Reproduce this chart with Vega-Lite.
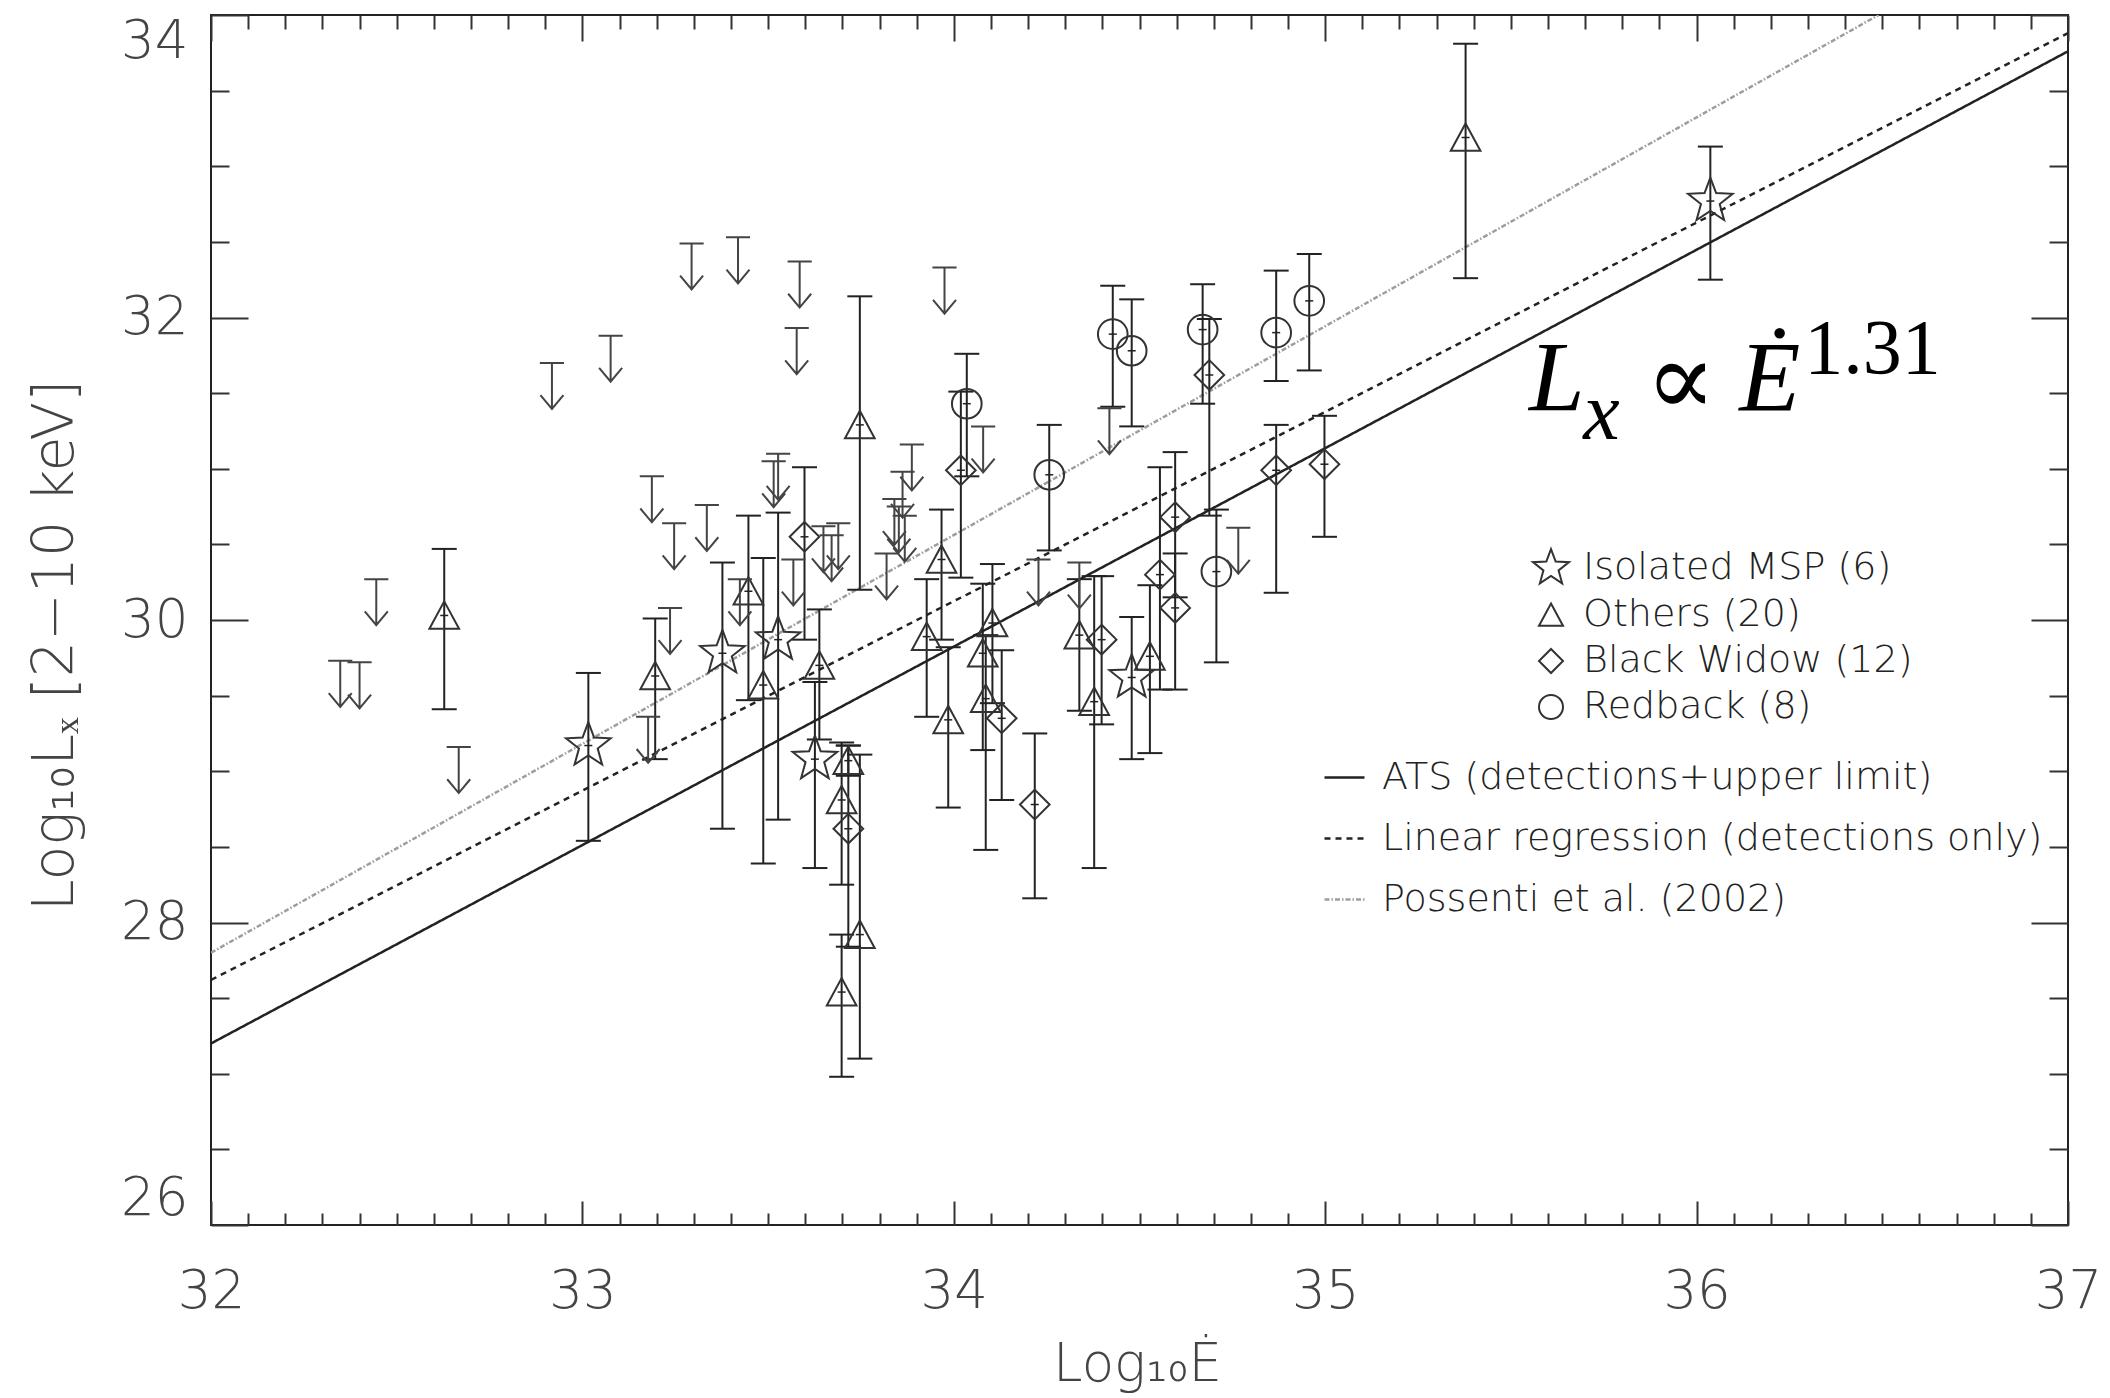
{
  "$schema": "https://vega.github.io/schema/vega-lite/v6.json",
  "width": 1857,
  "height": 1210,
  "autosize": {"type": "none"},
  "padding": {"left": 211, "top": 15, "right": 42, "bottom": 173},
  "background": "white",
  "config": {"view": {"stroke": "#222222", "strokeWidth": 2}, "axis": {"grid": false, "domain": false}},
  "datasets": {
    "fits": [
      {"fit": "ATS (detections+upper limit)", "E": 32, "L": 27.2},
      {"fit": "ATS (detections+upper limit)", "E": 37, "L": 33.76},
      {"fit": "Linear regression (detections only)", "E": 32, "L": 27.62},
      {"fit": "Linear regression (detections only)", "E": 37, "L": 33.88},
      {"fit": "Possenti et al. (2002)", "E": 32, "L": 27.8},
      {"fit": "Possenti et al. (2002)", "E": 36.49, "L": 34.0}
    ],
    "msp": [
      {"type": "Isolated MSP (6)", "E": 33.016, "L": 29.17, "lo": 28.54, "hi": 29.65},
      {"type": "Isolated MSP (6)", "E": 33.377, "L": 29.78, "lo": 28.62, "hi": 30.38},
      {"type": "Isolated MSP (6)", "E": 33.527, "L": 29.87, "lo": 28.68, "hi": 30.71},
      {"type": "Isolated MSP (6)", "E": 33.626, "L": 29.08, "lo": 28.36, "hi": 29.59},
      {"type": "Isolated MSP (6)", "E": 34.479, "L": 29.62, "lo": 29.08, "hi": 30.02},
      {"type": "Isolated MSP (6)", "E": 36.037, "L": 32.77, "lo": 32.25, "hi": 33.13},
      {"type": "Others (20)", "E": 32.628, "L": 30.03, "lo": 29.41, "hi": 30.47},
      {"type": "Others (20)", "E": 33.196, "L": 29.63, "lo": 29.08, "hi": 30.01},
      {"type": "Others (20)", "E": 33.447, "L": 30.19, "lo": 29.47, "hi": 30.69},
      {"type": "Others (20)", "E": 33.487, "L": 29.57, "lo": 28.39, "hi": 30.41},
      {"type": "Others (20)", "E": 33.638, "L": 29.7, "lo": 29.21, "hi": 30.07},
      {"type": "Others (20)", "E": 33.716, "L": 29.07, "lo": 28.97, "hi": 29.17},
      {"type": "Others (20)", "E": 33.698, "L": 28.81, "lo": 28.25, "hi": 29.19},
      {"type": "Others (20)", "E": 33.747, "L": 27.92, "lo": 27.1, "hi": 29.11},
      {"type": "Others (20)", "E": 33.698, "L": 27.54, "lo": 26.98, "hi": 27.92},
      {"type": "Others (20)", "E": 33.747, "L": 31.29, "lo": 30.2, "hi": 32.14},
      {"type": "Others (20)", "E": 33.927, "L": 29.89, "lo": 29.36, "hi": 30.27},
      {"type": "Others (20)", "E": 33.967, "L": 30.4, "lo": 29.87, "hi": 30.73},
      {"type": "Others (20)", "E": 33.985, "L": 29.34, "lo": 28.76, "hi": 29.82},
      {"type": "Others (20)", "E": 34.104, "L": 29.98, "lo": 29.45, "hi": 30.37},
      {"type": "Others (20)", "E": 34.078, "L": 29.78, "lo": 29.14, "hi": 30.24},
      {"type": "Others (20)", "E": 34.086, "L": 29.48, "lo": 28.48, "hi": 29.9},
      {"type": "Others (20)", "E": 34.338, "L": 29.9, "lo": 29.4, "hi": 30.27},
      {"type": "Others (20)", "E": 34.378, "L": 29.46, "lo": 28.36, "hi": 30.29},
      {"type": "Others (20)", "E": 34.528, "L": 29.76, "lo": 29.12, "hi": 30.23},
      {"type": "Others (20)", "E": 35.378, "L": 33.19, "lo": 32.26, "hi": 33.81},
      {"type": "Black Widow (12)", "E": 33.598, "L": 30.55, "lo": 29.87, "hi": 31.01},
      {"type": "Black Widow (12)", "E": 33.716, "L": 28.62, "lo": 27.84, "hi": 29.17},
      {"type": "Black Widow (12)", "E": 34.019, "L": 30.99, "lo": 30.28, "hi": 31.51},
      {"type": "Black Widow (12)", "E": 34.129, "L": 29.35, "lo": 28.81, "hi": 29.8},
      {"type": "Black Widow (12)", "E": 34.218, "L": 28.78, "lo": 28.16, "hi": 29.25},
      {"type": "Black Widow (12)", "E": 34.398, "L": 29.87, "lo": 29.31, "hi": 30.29},
      {"type": "Black Widow (12)", "E": 34.555, "L": 30.3, "lo": 29.54, "hi": 31.01},
      {"type": "Black Widow (12)", "E": 34.596, "L": 30.68, "lo": 30.15, "hi": 31.11},
      {"type": "Black Widow (12)", "E": 34.596, "L": 30.08, "lo": 29.54, "hi": 30.44},
      {"type": "Black Widow (12)", "E": 34.688, "L": 31.62, "lo": 30.69, "hi": 31.99},
      {"type": "Black Widow (12)", "E": 34.868, "L": 30.99, "lo": 30.18, "hi": 31.29},
      {"type": "Black Widow (12)", "E": 34.998, "L": 31.03, "lo": 30.55, "hi": 31.35},
      {"type": "Redback (8)", "E": 34.035, "L": 31.43, "lo": 30.95, "hi": 31.76},
      {"type": "Redback (8)", "E": 34.257, "L": 30.96, "lo": 30.46, "hi": 31.29},
      {"type": "Redback (8)", "E": 34.428, "L": 31.89, "lo": 31.41, "hi": 32.21},
      {"type": "Redback (8)", "E": 34.479, "L": 31.78, "lo": 31.28, "hi": 32.12},
      {"type": "Redback (8)", "E": 34.67, "L": 31.92, "lo": 31.43, "hi": 32.22},
      {"type": "Redback (8)", "E": 34.707, "L": 30.32, "lo": 29.72, "hi": 30.73},
      {"type": "Redback (8)", "E": 34.868, "L": 31.9, "lo": 31.58, "hi": 32.31},
      {"type": "Redback (8)", "E": 34.957, "L": 32.11, "lo": 31.65, "hi": 32.42}
    ],
    "ul": [
      {"E": 32.348, "L": 29.73}, {"E": 32.4, "L": 29.72}, {"E": 32.445, "L": 30.27},
      {"E": 32.667, "L": 29.16}, {"E": 32.918, "L": 31.7}, {"E": 33.076, "L": 31.88},
      {"E": 33.177, "L": 29.36}, {"E": 33.187, "L": 30.95}, {"E": 33.236, "L": 30.08},
      {"E": 33.247, "L": 30.64}, {"E": 33.294, "L": 32.49}, {"E": 33.335, "L": 30.76},
      {"E": 33.419, "L": 32.53}, {"E": 33.424, "L": 30.27}, {"E": 33.515, "L": 31.05},
      {"E": 33.527, "L": 31.1}, {"E": 33.568, "L": 30.4}, {"E": 33.577, "L": 31.93},
      {"E": 33.585, "L": 32.37}, {"E": 33.649, "L": 30.62}, {"E": 33.671, "L": 30.56},
      {"E": 33.689, "L": 30.64}, {"E": 33.819, "L": 30.44}, {"E": 33.84, "L": 30.8},
      {"E": 33.852, "L": 30.75}, {"E": 33.862, "L": 30.98}, {"E": 33.868, "L": 30.69},
      {"E": 33.887, "L": 31.16}, {"E": 33.975, "L": 32.33}, {"E": 34.079, "L": 31.28},
      {"E": 34.228, "L": 30.4}, {"E": 34.338, "L": 30.38}, {"E": 34.419, "L": 31.4},
      {"E": 34.766, "L": 30.61}
    ]
  },
  "resolve": {"axis": {"x": "independent", "y": "independent"}},
  "layer": [
    {
      "data": {"name": "fits"},
      "mark": {"type": "line", "strokeWidth": 2.5, "clip": true},
      "encoding": {
        "x": {"field": "E", "type": "quantitative", "scale": {"domain": [32, 37], "nice": false, "zero": false},
          "axis": {"orient": "bottom", "values": [32, 33, 34, 35, 36, 37], "ticks": false, "labels": true, "format": "d",
            "labelFont": "DejaVu Sans", "labelFontSize": 53, "labelFontWeight": 200, "labelColor": "#444444", "labelPadding": 40, "labelFlush": false,
            "title": "Log₁₀Ė", "titleFont": "DejaVu Sans", "titleFontSize": 53, "titleFontWeight": 200, "titleColor": "#444444",
            "titleX": 926, "titleY": 155, "titleAlign": "center", "titleBaseline": "alphabetic"}},
        "y": {"field": "L", "type": "quantitative", "scale": {"domain": [26, 34], "nice": false, "zero": false},
          "axis": {"orient": "left", "values": [26, 28, 30, 32, 34], "ticks": false, "labels": true, "format": "d",
            "labelFont": "DejaVu Sans", "labelFontSize": 53, "labelFontWeight": 200, "labelColor": "#444444", "labelPadding": 23, "labelFlush": true,
            "title": "Log₁₀Lₓ [2−10 keV]", "titleFont": "DejaVu Sans", "titleFontSize": 57, "titleFontWeight": 200, "titleColor": "#444444",
            "titleX": -139, "titleY": 630, "titleAngle": 270, "titleAlign": "center", "titleBaseline": "alphabetic"}},
        "detail": {"field": "fit"},
        "color": {"field": "fit", "type": "nominal",
          "scale": {"domain": ["ATS (detections+upper limit)", "Linear regression (detections only)", "Possenti et al. (2002)"], "range": ["#222222", "#222222", "#9e9e9e"]},
          "legend": {"orient": "none", "legendX": 1112, "legendY": 741, "title": null, "symbolType": "stroke", "symbolSize": 1600, "symbolStrokeWidth": 2.5,
            "labelFont": "DejaVu Sans", "labelFontSize": 38, "labelFontWeight": 200, "labelColor": "#222222", "labelOffset": 16, "rowPadding": 20, "labelLimit": 900, "padding": 0}},
        "strokeDash": {"field": "fit", "type": "nominal",
          "scale": {"domain": ["ATS (detections+upper limit)", "Linear regression (detections only)", "Possenti et al. (2002)"], "range": [[1, 0], [6, 5], [5, 2, 1.5, 2]]},
          "legend": {"orient": "none", "legendX": 1112, "legendY": 741, "title": null, "symbolType": "stroke", "symbolSize": 1600, "symbolStrokeWidth": 2.5,
            "labelFont": "DejaVu Sans", "labelFontSize": 38, "labelFontWeight": 200, "labelColor": "#222222", "labelOffset": 16, "rowPadding": 20, "labelLimit": 900, "padding": 0}}
      }
    },
    {
      "data": {"name": "msp"},
      "mark": {"type": "rule", "strokeWidth": 2, "color": "#222222"},
      "encoding": {
        "x": {"field": "E", "type": "quantitative", "scale": {"domain": [32, 37], "nice": false, "zero": false},
          "axis": {"orient": "bottom", "values": [32, 33, 34, 35, 36, 37], "labels": false, "ticks": true, "tickSize": -24, "tickWidth": 2, "tickColor": "#333333", "title": null}},
        "y": {"field": "lo", "type": "quantitative", "scale": {"domain": [26, 34], "nice": false, "zero": false},
          "axis": {"orient": "left", "values": [26, 28, 30, 32, 34], "labels": false, "ticks": true, "tickSize": -37, "tickWidth": 2, "tickColor": "#333333", "title": null}},
        "y2": {"field": "hi"}
      }
    },
    {
      "data": {"name": "msp"},
      "mark": {"type": "point", "shape": "M-1,0L1,0", "size": 625, "filled": false, "strokeWidth": 2, "color": "#222222", "opacity": 1},
      "encoding": {
        "x": {"field": "E", "type": "quantitative", "scale": {"domain": [32, 37], "nice": false, "zero": false},
          "axis": {"orient": "bottom", "values": [32.1, 32.2, 32.3, 32.4, 32.5, 32.6, 32.7, 32.8, 32.9, 33.1, 33.2, 33.3, 33.4, 33.5, 33.6, 33.7, 33.8, 33.9, 34.1, 34.2, 34.3, 34.4, 34.5, 34.6, 34.7, 34.8, 34.9, 35.1, 35.2, 35.3, 35.4, 35.5, 35.6, 35.7, 35.8, 35.9, 36.1, 36.2, 36.3, 36.4, 36.5, 36.6, 36.7, 36.8, 36.9],
            "labels": false, "ticks": true, "tickSize": -12, "tickWidth": 2, "tickColor": "#333333", "title": null}},
        "y": {"field": "lo", "type": "quantitative", "scale": {"domain": [26, 34], "nice": false, "zero": false},
          "axis": {"orient": "left", "values": [26.5, 27, 27.5, 28.5, 29, 29.5, 30.5, 31, 31.5, 32.5, 33, 33.5], "labels": false, "ticks": true, "tickSize": -18, "tickWidth": 2, "tickColor": "#333333", "title": null}}
      }
    },
    {
      "data": {"name": "msp"},
      "mark": {"type": "point", "shape": "M-1,0L1,0", "size": 625, "filled": false, "strokeWidth": 2, "color": "#222222", "opacity": 1},
      "encoding": {
        "x": {"field": "E", "type": "quantitative", "scale": {"domain": [32, 37], "nice": false, "zero": false},
          "axis": {"orient": "top", "values": [32, 33, 34, 35, 36, 37], "labels": false, "ticks": true, "tickSize": -26, "tickWidth": 2, "tickColor": "#333333", "title": null}},
        "y": {"field": "hi", "type": "quantitative", "scale": {"domain": [26, 34], "nice": false, "zero": false},
          "axis": {"orient": "right", "values": [26, 28, 30, 32, 34], "labels": false, "ticks": true, "tickSize": -37, "tickWidth": 2, "tickColor": "#333333", "title": null}}
      }
    },
    {
      "data": {"name": "msp"},
      "mark": {"type": "point", "size": 880, "filled": false, "strokeWidth": 2, "color": "#333333", "opacity": 1},
      "encoding": {
        "x": {"field": "E", "type": "quantitative", "scale": {"domain": [32, 37], "nice": false, "zero": false},
          "axis": {"orient": "top", "values": [32.1, 32.2, 32.3, 32.4, 32.5, 32.6, 32.7, 32.8, 32.9, 33.1, 33.2, 33.3, 33.4, 33.5, 33.6, 33.7, 33.8, 33.9, 34.1, 34.2, 34.3, 34.4, 34.5, 34.6, 34.7, 34.8, 34.9, 35.1, 35.2, 35.3, 35.4, 35.5, 35.6, 35.7, 35.8, 35.9, 36.1, 36.2, 36.3, 36.4, 36.5, 36.6, 36.7, 36.8, 36.9],
            "labels": false, "ticks": true, "tickSize": -14, "tickWidth": 2, "tickColor": "#333333", "title": null}},
        "y": {"field": "L", "type": "quantitative", "scale": {"domain": [26, 34], "nice": false, "zero": false},
          "axis": {"orient": "right", "values": [26.5, 27, 27.5, 28.5, 29, 29.5, 30.5, 31, 31.5, 32.5, 33, 33.5], "labels": false, "ticks": true, "tickSize": -19, "tickWidth": 2, "tickColor": "#333333", "title": null}},
        "shape": {"field": "type", "type": "nominal",
          "scale": {"domain": ["Isolated MSP (6)", "Others (20)", "Black Widow (12)", "Redback (8)"],
            "range": ["M0,-1.58L0.39,-0.537L1.503,-0.488L0.631,0.205L0.929,1.278L0,0.664L-0.929,1.278L-0.631,0.205L-1.503,-0.488L-0.39,-0.537Z", "M0,-0.95L1,0.9L-1,0.9Z", "M0,-1L1,0L0,1L-1,0Z", "M1,0A1,1,0,1,1,-1,0A1,1,0,1,1,1,0Z"]},
          "legend": {"orient": "none", "legendX": 1321, "legendY": 534, "title": null, "symbolSize": 576, "symbolStrokeWidth": 2, "symbolStrokeColor": "#333333", "symbolFillColor": "transparent",
            "labelFont": "DejaVu Sans", "labelFontSize": 38, "labelFontWeight": 200, "labelColor": "#222222", "labelOffset": 13, "rowPadding": 8, "labelLimit": 900, "padding": 0}}
      }
    },
    {
      "data": {"name": "msp"},
      "mark": {"type": "point", "shape": "M-1,0L1,0", "size": 64, "filled": false, "strokeWidth": 1.5, "color": "#222222", "opacity": 1},
      "encoding": {
        "x": {"field": "E", "type": "quantitative", "scale": {"domain": [32, 37], "nice": false, "zero": false}, "axis": null},
        "y": {"field": "L", "type": "quantitative", "scale": {"domain": [26, 34], "nice": false, "zero": false}, "axis": null}
      }
    },
    {
      "data": {"name": "ul"},
      "mark": {"type": "point", "shape": "M-1.05,0L1.05,0M0,0L0,4M-1,2.8L0,4L1,2.8", "size": 529, "filled": false, "strokeWidth": 2, "color": "#444444", "opacity": 1},
      "encoding": {
        "x": {"field": "E", "type": "quantitative", "scale": {"domain": [32, 37], "nice": false, "zero": false}, "axis": null},
        "y": {"field": "L", "type": "quantitative", "scale": {"domain": [26, 34], "nice": false, "zero": false}, "axis": null}
      }
    },
    {
      "data": {"values": [{"s": "L"}]},
      "mark": {"type": "text", "font": "Liberation Serif", "fontStyle": "italic", "fontSize": 100, "align": "left", "baseline": "alphabetic", "color": "#000000"},
      "encoding": {
        "x": {"datum": 35.549, "type": "quantitative", "scale": {"domain": [32, 37], "nice": false, "zero": false}, "axis": null},
        "y": {"datum": 31.387, "type": "quantitative", "scale": {"domain": [26, 34], "nice": false, "zero": false}, "axis": null},
        "text": {"field": "s"}
      }
    },
    {
      "data": {"values": [{"s": "x"}]},
      "mark": {"type": "text", "font": "Liberation Serif", "fontStyle": "italic", "fontSize": 82, "align": "left", "baseline": "alphabetic", "color": "#000000"},
      "encoding": {
        "x": {"datum": 35.695, "type": "quantitative", "scale": {"domain": [32, 37], "nice": false, "zero": false}, "axis": null},
        "y": {"datum": 31.2, "type": "quantitative", "scale": {"domain": [26, 34], "nice": false, "zero": false}, "axis": null},
        "text": {"field": "s"}
      }
    },
    {
      "data": {"values": [{"s": "∝"}]},
      "mark": {"type": "text", "font": "Liberation Serif, DejaVu Serif", "fontSize": 105, "align": "left", "baseline": "alphabetic", "color": "#000000"},
      "encoding": {
        "x": {"datum": 35.862, "type": "quantitative", "scale": {"domain": [32, 37], "nice": false, "zero": false}, "axis": null},
        "y": {"datum": 31.354, "type": "quantitative", "scale": {"domain": [26, 34], "nice": false, "zero": false}, "axis": null},
        "text": {"field": "s"}
      }
    },
    {
      "data": {"values": [{"s": "Ė"}]},
      "mark": {"type": "text", "font": "Liberation Serif", "fontStyle": "italic", "fontSize": 100, "align": "left", "baseline": "alphabetic", "color": "#000000"},
      "encoding": {
        "x": {"datum": 36.115, "type": "quantitative", "scale": {"domain": [32, 37], "nice": false, "zero": false}, "axis": null},
        "y": {"datum": 31.387, "type": "quantitative", "scale": {"domain": [26, 34], "nice": false, "zero": false}, "axis": null},
        "text": {"field": "s"}
      }
    },
    {
      "data": {"values": [{"s": "1.31"}]},
      "mark": {"type": "text", "font": "Liberation Serif", "fontSize": 78, "align": "left", "baseline": "alphabetic", "color": "#000000"},
      "encoding": {
        "x": {"datum": 36.29, "type": "quantitative", "scale": {"domain": [32, 37], "nice": false, "zero": false}, "axis": null},
        "y": {"datum": 31.63, "type": "quantitative", "scale": {"domain": [26, 34], "nice": false, "zero": false}, "axis": null},
        "text": {"field": "s"}
      }
    }
  ]
}
